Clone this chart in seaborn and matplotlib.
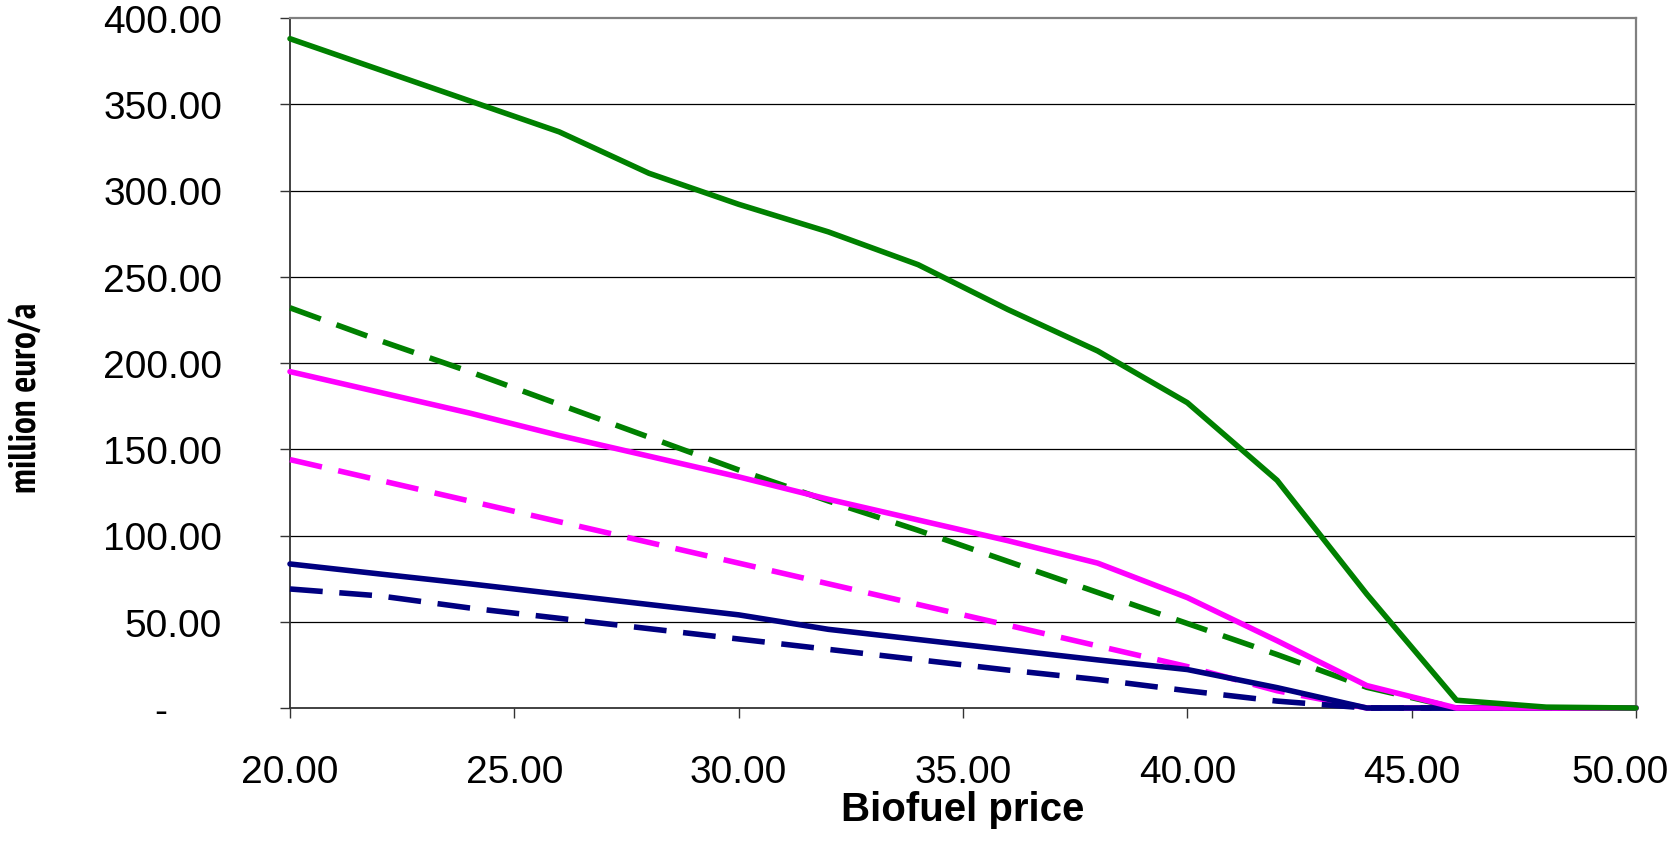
import numpy as np
import pandas as pd
import matplotlib
matplotlib.use("Agg")
import matplotlib.pyplot as plt
import matplotlib.transforms as mtransforms
from matplotlib import font_manager
import seaborn as sns

# ---- data ----
price = [20, 22, 24, 26, 28, 30, 32, 34, 36, 38, 40, 42, 44, 46, 48, 50]

green_solid  = [388, 370, 352, 334, 310, 292, 276, 257, 231, 207, 177, 132, 66, 4.5, 0.5, 0]
green_dashed = [232, 213, 195, 176, 157, 138, 120, 103, 85, 67, 49, 31, 12, 0, 0, 0]
pink_solid   = [195, 183, 171, 158, 146, 134, 121, 109, 97, 84, 64, 39, 13, 0, 0, 0]
pink_dashed  = [144, 132, 120, 108, 96, 84, 72, 60, 48, 36, 24, 10, 0, 0, 0, 0]
navy_solid   = [83.5, 77.7, 72, 66, 60, 54, 45.6, 39.7, 33.8, 27.9, 22.3, 11.8, 0, 0, 0, 0]
navy_dashed  = [69, 65, 58, 52, 46, 40, 34, 28, 22, 16.5, 10, 4, 0, 0, 0, 0]

y_ticks = [0, 50, 100, 150, 200, 250, 300, 350, 400]
x_ticks = [20, 25, 30, 35, 40, 45, 50]
x_label = "Biofuel price"
y_label = "million euro/a"

series = [
    ("green dashed", green_dashed, "#008000", "dashed"),
    ("pink dashed", pink_dashed, "#FF00FF", "dashed"),
    ("navy dashed", navy_dashed, "#000080", "dashed"),
    ("navy solid", navy_solid, "#000080", "solid"),
    ("pink solid", pink_solid, "#FF00FF", "solid"),
    ("green solid", green_solid, "#008000", "solid"),
]

sns.set_style("white")
plt.rcParams["font.family"] = ["Liberation Sans", "DejaVu Sans"]
plt.rcParams["text.color"] = "black"

# look for a narrow bold sans for the y label (Arial Narrow look)
narrow_family = None
for fe in font_manager.fontManager.ttflist:
    nm = fe.name
    if ("Narrow" in nm) and "Sans" in nm or nm in ("Arial Narrow",):
        narrow_family = nm
        break
if narrow_family is None:
    for fe in font_manager.fontManager.ttflist:
        if "Condensed" in fe.name and "Sans" in fe.name:
            narrow_family = fe.name
            break

W, H = 1671, 862
fig = plt.figure(figsize=(W / 100, H / 100), dpi=100)
ax = fig.add_axes([290 / W, 1 - 709 / H, 1346 / W, 690 / H])

lw = 4.0
for name, vals, color, style in series:
    df = pd.DataFrame({"price": price, "value": vals})
    ls = "-" if style == "solid" else (0, (5.9, 3.0))
    sns.lineplot(data=df, x="price", y="value", ax=ax, color=color,
                 linestyle=ls, linewidth=lw, errorbar=None, legend=False,
                 clip_on=False, zorder=3)

ax.set_xlim(20, 50)
ax.set_ylim(0, 400)
ax.set_xticks(x_ticks)
ax.set_yticks(y_ticks)
ax.set_xticklabels([f"{v:.2f}" for v in x_ticks])
ax.set_yticklabels([("-     " if v == 0 else f"{v:.2f}") for v in y_ticks])

for v in y_ticks[1:-1]:
    ax.axhline(v, color="black", linewidth=0.9, zorder=1)

ax.tick_params(axis="both", direction="out", length=7, width=1.0,
               color="#333333", labelsize=28, labelcolor="black")
ax.tick_params(axis="y", pad=42)
ax.tick_params(axis="x", pad=26)
ax.tick_params(left=True, bottom=True)

# last x label is pushed inside the figure like in the reference
last = ax.get_xticklabels()[-1]
last.set_horizontalalignment("right")
last.set_transform(last.get_transform() +
                   mtransforms.ScaledTranslation(33 / 100, 0, fig.dpi_scale_trans))

for s in ["left", "bottom"]:
    ax.spines[s].set_color("#333333")
    ax.spines[s].set_linewidth(1.3)
for s in ["top", "right"]:
    ax.spines[s].set_color("#808080")
    ax.spines[s].set_linewidth(1.6)

ax.set_xlabel("")
ax.set_ylabel("")
fig.text(963 / W, 1 - 810 / H, x_label, ha="center", va="center",
         fontsize=29, fontweight="bold", color="black")
if narrow_family is not None:
    fig.text(27 / W, 1 - 398 / H, y_label, ha="center", va="center",
             rotation=90, fontsize=27, fontweight="bold", color="black",
             family=[narrow_family, "Liberation Sans", "DejaVu Sans"])
else:
    fig.text(27 / W, 1 - 398 / H, y_label, ha="center", va="center",
             rotation=90, fontsize=23, fontweight="bold", color="black",
             family=["Liberation Sans", "DejaVu Sans"])

fig.savefig("out.png", dpi=100, facecolor="white")
